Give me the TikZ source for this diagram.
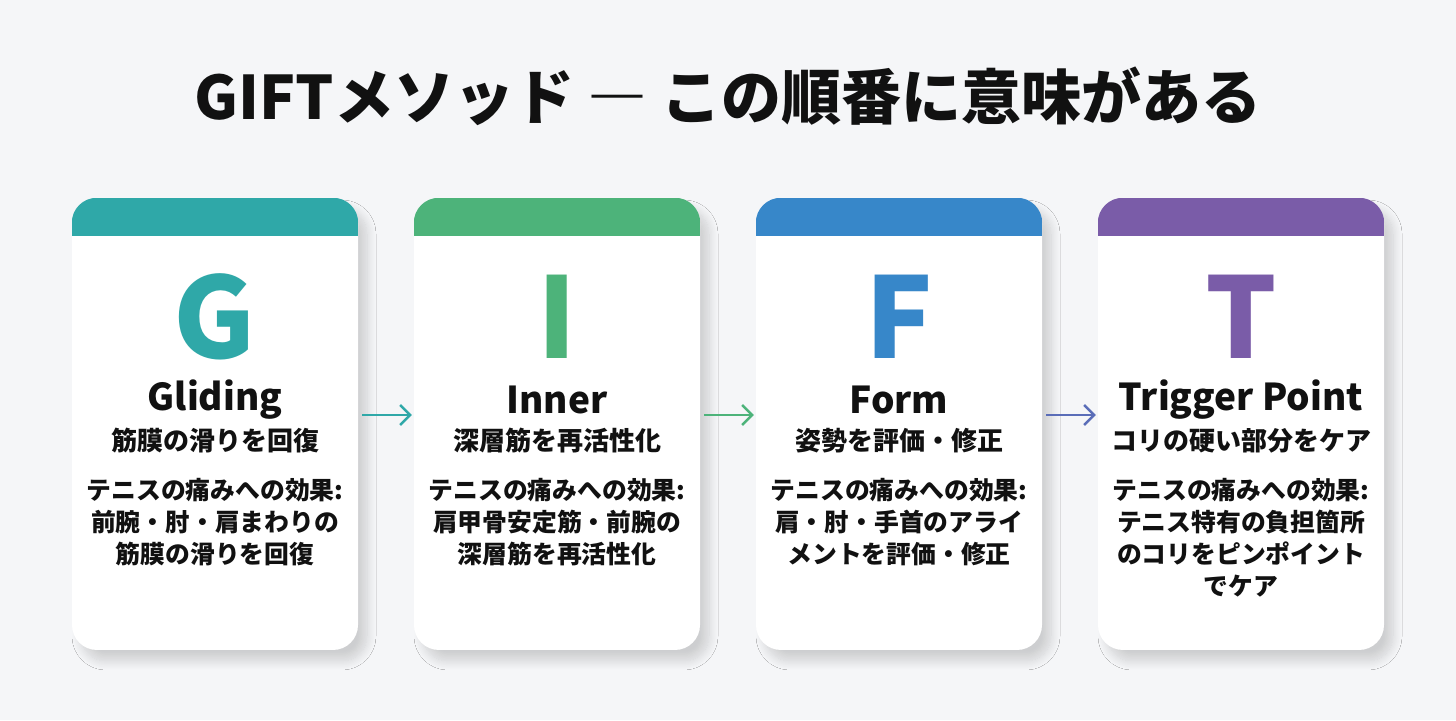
\documentclass[tikz,border=0pt]{standalone}
\usepackage{fontspec}
\setmainfont{Noto Sans CJK JP}
\usetikzlibrary{shadows.blur,arrows.meta}
\definecolor{bg}{HTML}{F5F6F8}
\definecolor{cG}{HTML}{2FA8A8}
\definecolor{cI}{HTML}{4DB37A}
\definecolor{cF}{HTML}{3787C9}
\definecolor{cT}{HTML}{7A5CA8}
\definecolor{cFT}{HTML}{5A6DB8}
\definecolor{ink}{HTML}{111111}
\tikzset{
  cardbox/.style={rectangle, rounded corners=25pt, fill=white, minimum width=286pt, minimum height=452pt, inner sep=0pt,
    blur shadow={shadow xshift=9pt, shadow yshift=-11pt, shadow blur steps=14, shadow blur radius=9pt, shadow opacity=16}},
  cardletter/.style={font=\fontsize{112}{112}\bfseries\selectfont, anchor=center},
  cardname/.style={font=\fontsize{37}{42}\bfseries\selectfont, text=ink, anchor=center},
  cardsub/.style={font=\fontsize{26}{30}\bfseries\selectfont, text=ink, anchor=center},
  cardbody/.style={font=\fontsize{24.8}{32}\bfseries\selectfont, text=ink, align=center, anchor=north},
  conn/.style={line width=2.4pt, -{Straight Barb[length=10pt,width=20pt,line width=2.4pt]}},
}
\begin{document}
\begin{tikzpicture}[x=1pt,y=1pt]
\fill[bg] (0,0) rectangle (1456,720);
\useasboundingbox (0,0) rectangle (1456,720);
\node[font=\fontsize{60}{64}\bfseries\selectfont, text=ink] (title) at (728,624) {GIFTメソッド ― この順番に意味がある};

\foreach \i/\cx/\col/\L in {1/215/cG/G, 2/557/cI/I, 3/899/cF/F, 4/1241/cT/T}{
  \node[cardbox] (card\i) at (\cx,296) {};
  \begin{scope}
    \clip[rounded corners=25pt] (card\i.south west) rectangle (card\i.north east);
    \fill[\col] (card\i.north west) rectangle ([yshift=-38pt]card\i.north east);
  \end{scope}
  \node[cardletter, text=\col] (let\i) at (\cx,403) {\L};
}

\node[cardname] (n1) at (215,320) {Gliding};
\node[cardsub] (s1) at (215,279) {筋膜の滑りを回復};
\node[cardbody] (b1) at (215,245) {テニスの痛みへの効果:\\前腕・肘・肩まわりの\\筋膜の滑りを回復};

\node[cardname] (n2) at (557,320) {Inner};
\node[cardsub] (s2) at (557,279) {深層筋を再活性化};
\node[cardbody] (b2) at (557,245) {テニスの痛みへの効果:\\肩甲骨安定筋・前腕の\\深層筋を再活性化};

\node[cardname] (n3) at (899,320) {Form};
\node[cardsub] (s3) at (899,279) {姿勢を評価・修正};
\node[cardbody] (b3) at (899,245) {テニスの痛みへの効果:\\肩・肘・手首のアライ\\メントを評価・修正};

\node[cardname] (n4) at (1241,320) {Trigger Point};
\node[cardsub] (s4) at (1241,279) {コリの硬い部分をケア};
\node[cardbody] (b4) at (1241,245) {テニスの痛みへの効果:\\テニス特有の負担箇所\\のコリをピンポイント\\でケア};

\draw[conn, cG] ([shift={(4pt,9pt)}]card1.east) -- ([shift={(-2pt,9pt)}]card2.west);
\draw[conn, cI] ([shift={(4pt,9pt)}]card2.east) -- ([shift={(-2pt,9pt)}]card3.west);
\draw[conn, cFT] ([shift={(4pt,9pt)}]card3.east) -- ([shift={(-2pt,9pt)}]card4.west);
\end{tikzpicture}
\end{document}
